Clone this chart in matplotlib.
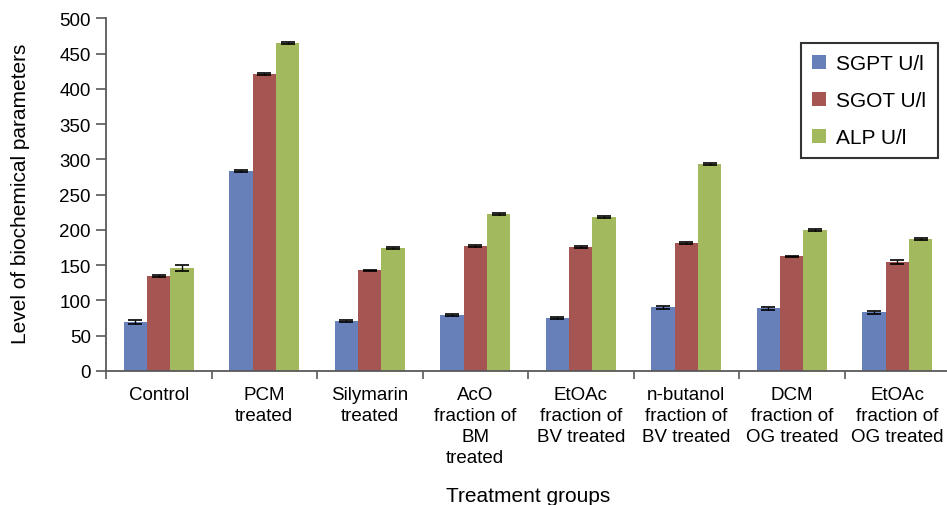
import matplotlib
matplotlib.use("Agg")
import matplotlib.pyplot as plt
import numpy as np

plt.rcParams['font.family'] = ['Liberation Sans', 'DejaVu Sans']

categories = ["Control", "PCM\ntreated", "Silymarin\ntreated", "AcO\nfraction of\nBM\ntreated",
              "EtOAc\nfraction of\nBV treated", "n-butanol\nfraction of\nBV treated",
              "DCM\nfraction of\nOG treated", "EtOAc\nfraction of\nOG treated"]
series_names = ["SGPT U/l", "SGOT U/l", "ALP U/l"]
sgpt = [69.5, 284, 71, 80, 74.7, 90.2, 88.8, 83.2]
sgot = [135, 421, 142.7, 177, 176, 181.5, 162.6, 154.5]
alp = [145.6, 464.5, 174.9, 222.6, 218.3, 294, 199.4, 186.7]
sgpt_err = [2.5, 1.5, 1.0, 1.5, 1.2, 1.8, 1.8, 2.2]
sgot_err = [1.8, 1.2, 1.0, 1.2, 1.5, 1.8, 1.0, 2.5]
alp_err = [4.3, 1.5, 1.5, 1.8, 1.2, 1.5, 1.5, 1.2]
y_ticks = [0, 50, 100, 150, 200, 250, 300, 350, 400, 450, 500]

colors = ["#6780ba", "#a65652", "#a2b95e"]

fig = plt.figure(figsize=(9.47, 5.06), dpi=100)
ax = fig.add_axes([106/947, (506-372)/506, (950-106)/947, (372-19.3)/506])

x = np.arange(len(categories))
w = 0.222
for i, (vals, errs) in enumerate([(sgpt, sgpt_err), (sgot, sgot_err), (alp, alp_err)]):
    ax.bar(x + (i-1)*w, vals, width=w, color=colors[i], label=series_names[i],
           yerr=errs, capsize=5, error_kw=dict(ecolor='black', elinewidth=1, capthick=1.2))

ax.set_xlim(-0.5, 7.5)
ax.set_ylim(0, 500)
ax.set_yticks(y_ticks)
ax.tick_params(axis='y', labelsize=13.5, direction='out', length=7, color='#595959', width=1.2, pad=4)
ax.set_xticks(x)
ax.set_xticklabels(categories, fontsize=13.5, linespacing=1.3)
ax.tick_params(axis='x', which='major', length=0, pad=11)
ax.set_xticks(np.arange(-0.5, 8.0, 1.0), minor=True)
ax.tick_params(axis='x', which='minor', length=6, color='#595959', width=1.2, direction='out')
for s in ['top', 'right']:
    ax.spines[s].set_visible(False)
for s in ['left', 'bottom']:
    ax.spines[s].set_color('#595959')
    ax.spines[s].set_linewidth(1.3)

fig.text(528/947, 1-497/506, "Treatment groups", ha='center', va='center', fontsize=15)
fig.text(21/947, 1-194/506, "Level of biochemical parameters", ha='center', va='center',
         rotation=90, fontsize=15)

leg = ax.legend(loc='upper left', bbox_to_anchor=(801/947, 1-44/506), bbox_transform=fig.transFigure,
                fontsize=15, frameon=True, fancybox=False, edgecolor='black',
                handlelength=0.65, handleheight=0.65, labelspacing=0.85, borderpad=0.55,
                handletextpad=0.5, borderaxespad=0)
leg.get_frame().set_linewidth(1.5)

fig.savefig("out.png", dpi=100)
